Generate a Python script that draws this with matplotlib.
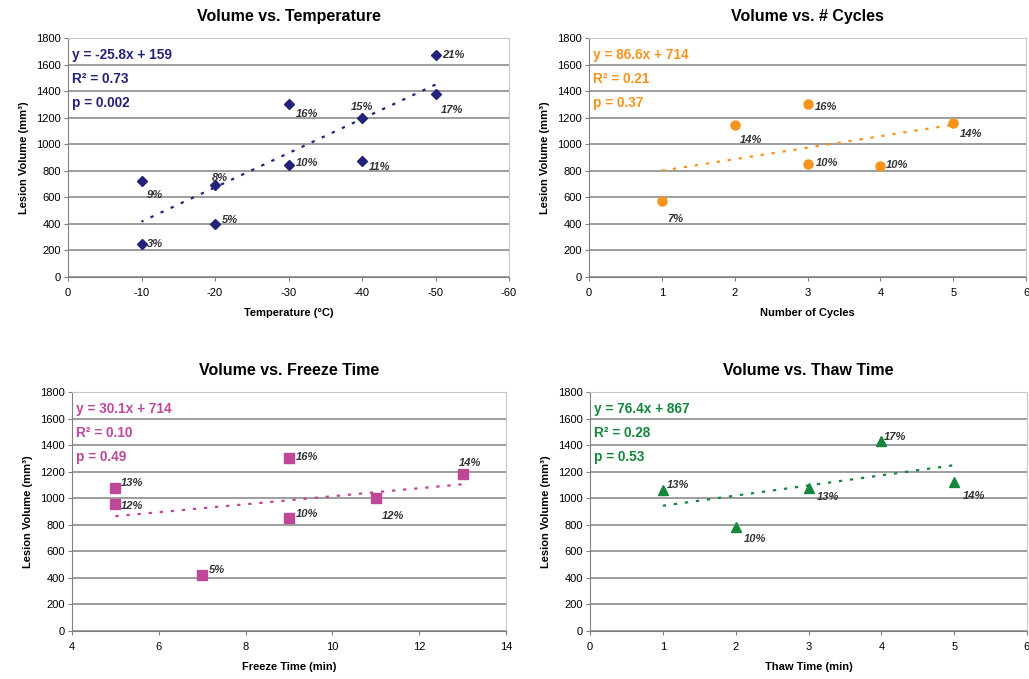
import matplotlib
matplotlib.use('Agg')
from matplotlib import pyplot
import numpy

pyplot.rcParams['font.family'] = ['Liberation Sans', 'DejaVu Sans']
pyplot.rcParams['axes.unicode_minus'] = False

# data
temp_x = [-10, -10, -20, -20, -30, -30, -40, -40, -50, -50]
temp_y = [720, 245, 690, 400, 1300, 845, 1200, 870, 1675, 1375]
temp_lab = ['9%', '3%', '8%', '5%', '16%', '10%', '15%', '11%', '21%', '17%']
temp_fit = (-25.8, 159)
temp_stats = ['y = -25.8x + 159', 'R² = 0.73', 'p = 0.002']

cyc_x = [1, 2, 3, 3, 4, 5]
cyc_y = [575, 1145, 1300, 850, 835, 1160]
cyc_lab = ['7%', '14%', '16%', '10%', '10%', '14%']
cyc_fit = (86.6, 714)
cyc_stats = ['y = 86.6x + 714', 'R² = 0.21', 'p = 0.37']

frz_x = [5, 5, 7, 9, 9, 11, 13]
frz_y = [1080, 960, 420, 1300, 850, 1005, 1180]
frz_lab = ['13%', '12%', '5%', '16%', '10%', '12%', '14%']
frz_fit = (30.1, 714)
frz_stats = ['y = 30.1x + 714', 'R² = 0.10', 'p = 0.49']

thaw_x = [1, 2, 3, 4, 5]
thaw_y = [1065, 780, 1075, 1430, 1125]
thaw_lab = ['13%', '10%', '13%', '17%', '14%']
thaw_fit = (76.4, 867)
thaw_stats = ['y = 76.4x + 867', 'R² = 0.28', 'p = 0.53']

# label offsets in points (layout only)
temp_off = [(4, -10), (4, 0), (-2, 5), (5, 3), (5, -7), (5, 1), (-8, 8), (5, -4), (5, 0), (4, -11)]
cyc_off = [(4, -13), (4, -11), (5, -2), (6, 1), (4, 1), (5, -8)]
frz_off = [(4, 3), (4, -2), (5, 4), (5, 1), (5, 3), (4, -13), (-3, 8)]
thaw_off = [(3, 3), (6, -8), (6, -6), (2, 3), (6, -10)]


def panel(rect, title, xlabel, xs, ys, labs, offs, fit, stats, color, marker, ms,
          xlim, xticks):
    ax = fig.add_axes(rect)
    ax.set_xlim(*xlim)
    ax.set_ylim(0, 1800)
    ax.set_xticks(xticks)
    ax.set_yticks(range(0, 1801, 200))
    ax.tick_params(labelsize=8, length=3, width=0.8, color='#808080', pad=2)
    ax.tick_params(axis='x', pad=5)
    ax.grid(axis='y', color='#8c8c8c', linewidth=1.2)
    ax.set_axisbelow(True)
    for s in ['top', 'right']:
        ax.spines[s].set_color('#c8c8c8')
    for s in ['left', 'bottom']:
        ax.spines[s].set_color('#808080')
    ax.set_title(title, fontsize=11.5, fontweight='bold', pad=12)
    ax.set_xlabel(xlabel, fontsize=8, fontweight='bold', labelpad=7)
    ax.set_ylabel('Lesion Volume (mm³)', fontsize=8, fontweight='bold', labelpad=5)
    lx = numpy.array([min(xs), max(xs)], dtype=float)
    ax.plot(lx, fit[0] * lx + fit[1], color=color, linestyle=(0, (1.5, 3.5)), linewidth=1.6)
    ax.plot(xs, ys, linestyle='none', marker=marker, color=color, markersize=ms)
    for x, y, t, o in zip(xs, ys, labs, offs):
        ax.annotate(t, (x, y), xytext=o, textcoords='offset points', fontsize=8,
                    fontweight='bold', fontstyle='italic', color='#333333', va='center')
    for i, s in enumerate(stats):
        ax.text(0.01, 0.93 - i * 0.1, s, transform=ax.transAxes, fontsize=9.8,
                fontweight='bold', color=color, va='center')
    return ax


fig = pyplot.figure(figsize=(10.29, 6.79), dpi=100)
W, H = 1029, 679


def r(l, t, rr, b):
    return [l / W, 1 - b / H, (rr - l) / W, (b - t) / H]


panel(r(68, 38, 509, 277), 'Volume vs. Temperature', 'Temperature (°C)',
      temp_x, temp_y, temp_lab, temp_off, temp_fit, temp_stats, '#23237a', 'D', 5,
      (0, -60), range(0, -61, -10))
panel(r(589, 38, 1026, 277), 'Volume vs. # Cycles', 'Number of Cycles',
      cyc_x, cyc_y, cyc_lab, cyc_off, cyc_fit, cyc_stats, '#f7941d', 'o', 6.5,
      (0, 6), range(0, 7))
panel(r(72, 392, 506, 631), 'Volume vs. Freeze Time', 'Freeze Time (min)',
      frz_x, frz_y, frz_lab, frz_off, frz_fit, frz_stats, '#c0469a', 's', 6.5,
      (4, 14), range(4, 15, 2))
panel(r(590, 392, 1027, 631), 'Volume vs. Thaw Time', 'Thaw Time (min)',
      thaw_x, thaw_y, thaw_lab, thaw_off, thaw_fit, thaw_stats, '#14873c', '^', 6.5,
      (0, 6), range(0, 7))

fig.savefig('out.png', dpi=100)
